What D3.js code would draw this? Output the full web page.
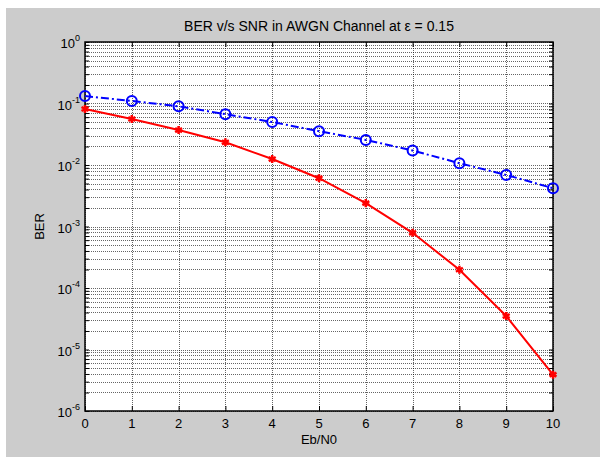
<!DOCTYPE html>
<html>
<head>
<meta charset="utf-8">
<script src="https://cdn.jsdelivr.net/npm/d3@7"></script>
<style>
  body { margin: 0; background: #fff; }
  text { font-family: "Liberation Sans", Arial, sans-serif; fill: #000; }
</style>
</head>
<body>
<div class="graph-container"></div>
<script>
// data
var snr = [0, 1, 2, 3, 4, 5, 6, 7, 8, 9, 10]
var berBlue = [0.132, 0.110, 0.090, 0.067, 0.050, 0.0355, 0.0256, 0.0172, 0.0107, 0.0069, 0.0042]
var berRed = [0.0814, 0.056, 0.037, 0.0234, 0.0125, 0.0061, 0.0024, 0.00079, 0.000198, 0.000035, 0.0000039]
var xTicks = [0, 1, 2, 3, 4, 5, 6, 7, 8, 9, 10]
var yExps = [0, -1, -2, -3, -4, -5, -6]

var W = 600, H = 457
var margin = {top: 42, right: 47, bottom: 46, left: 85},
    width = W - margin.left - margin.right,
    height = H - margin.top - margin.bottom

var svg0 = d3.select(".graph-container").append("svg")
    .attr("width", W)
    .attr("height", H)

// gray figure background
svg0.append("rect")
    .attr("x", 6).attr("y", 8)
    .attr("width", W - 6).attr("height", H - 8)
    .attr("fill", "#cccccc")

var svg = svg0.append("g")
    .attr("transform", "translate(" + margin.left + "," + margin.top + ")")

var x = d3.scaleLinear().domain([0, 10]).range([0, width])
var y = d3.scaleLog().domain([1e-6, 1]).range([height, 0])

svg.append("rect")
    .attr("width", width).attr("height", height)
    .attr("fill", "#fff")

// grid: major + minor on y, major on x
var yGrid = []
for (var e = -6; e < 0; e++) {
  for (var m = 1; m < 10; m++) yGrid.push(m * Math.pow(10, e))
}
yGrid.push(1)

svg.append("g").selectAll("line")
    .data(yGrid)
    .enter().append("line")
    .attr("x1", 0).attr("x2", width)
    .attr("y1", d => Math.round(y(d)) + 0.5)
    .attr("y2", d => Math.round(y(d)) + 0.5)
    .attr("stroke", "#000")
    .attr("stroke-width", 1)
    .attr("stroke-dasharray", "1,1")
    .attr("opacity", 0.6)

svg.append("g").selectAll("line")
    .data(xTicks)
    .enter().append("line")
    .attr("x1", d => Math.round(x(d)) + 0.5)
    .attr("x2", d => Math.round(x(d)) + 0.5)
    .attr("y1", 0).attr("y2", height)
    .attr("stroke", "#000")
    .attr("stroke-width", 1)
    .attr("stroke-dasharray", "1,1")
    .attr("opacity", 0.6)

// ticks pointing inward on all sides
var xAxisB = d3.axisBottom(x).tickValues(xTicks).tickSize(-5).tickFormat("")
var xAxisT = d3.axisTop(x).tickValues(xTicks).tickSize(-5).tickFormat("")
var yAxisL = d3.axisLeft(y).tickValues(yGrid).tickSize(-4).tickFormat("")
var yAxisR = d3.axisRight(y).tickValues(yGrid).tickSize(-4).tickFormat("")

svg.append("g").attr("class", "axis").attr("transform", "translate(0," + height + ")").call(xAxisB)
svg.append("g").attr("class", "axis").call(xAxisT)
svg.append("g").attr("class", "axis").call(yAxisL)
svg.append("g").attr("class", "axis").attr("transform", "translate(" + width + ",0)").call(yAxisR)
svg.selectAll(".axis .domain").remove()
svg.selectAll(".axis line").attr("stroke", "#000")

svg.append("rect")
    .attr("width", width).attr("height", height)
    .attr("fill", "none")
    .attr("stroke", "#000")
    .attr("stroke-width", 1.5)

// tick labels
svg.append("g").selectAll("text")
    .data(xTicks)
    .enter().append("text")
    .attr("x", d => x(d))
    .attr("y", height + 17)
    .attr("text-anchor", "middle")
    .style("font-size", "13px")
    .text(d => d)

var yLab = svg.append("g").selectAll("text")
    .data(yExps)
    .enter().append("text")
    .attr("x", -5)
    .attr("y", d => y(Math.pow(10, d)) + 6)
    .attr("text-anchor", "end")
    .style("font-size", "13px")
yLab.append("tspan").text("10")
yLab.append("tspan")
    .attr("dy", -7)
    .style("font-size", "9px")
    .text(d => d)

// series
var serLine = d3.line().x((d, i) => x(snr[i])).y(d => y(d))
svg.append("path")
    .datum(berBlue)
    .attr("d", serLine)
    .attr("fill", "none")
    .attr("stroke", "#0000ff")
    .attr("stroke-width", 2)
    .attr("stroke-dasharray", "8,3,2,3")

svg.append("g").selectAll("circle")
    .data(berBlue)
    .enter().append("circle")
    .attr("cx", (d, i) => x(snr[i]))
    .attr("cy", d => y(d))
    .attr("r", 5)
    .attr("fill", "none")
    .attr("stroke", "#0000ff")
    .attr("stroke-width", 2)

svg.append("path")
    .datum(berRed)
    .attr("d", serLine)
    .attr("fill", "none")
    .attr("stroke", "#ff0000")
    .attr("stroke-width", 2)

svg.append("g").selectAll("path")
    .data(berRed)
    .enter().append("path")
    .attr("transform", (d, i) => "translate(" + x(snr[i]) + "," + y(d) + ")")
    .attr("d", d3.symbol().type(d3.symbolAsterisk).size(45))
    .attr("fill", "none")
    .attr("stroke", "#ff0000")
    .attr("stroke-width", 2.5)

// titles
svg.append("text")
    .attr("x", width / 2)
    .attr("y", -11)
    .attr("text-anchor", "middle")
    .style("font-size", "14px")
    .text("BER v/s SNR in AWGN Channel at \u03b5 = 0.15")

svg.append("text")
    .attr("x", width / 2)
    .attr("y", height + 33)
    .attr("text-anchor", "middle")
    .style("font-size", "13px")
    .text("Eb/N0")

svg.append("text")
    .attr("transform", "translate(-41," + (height / 2) + ") rotate(-90)")
    .attr("text-anchor", "middle")
    .style("font-size", "13px")
    .text("BER")
</script>
</body>
</html>
